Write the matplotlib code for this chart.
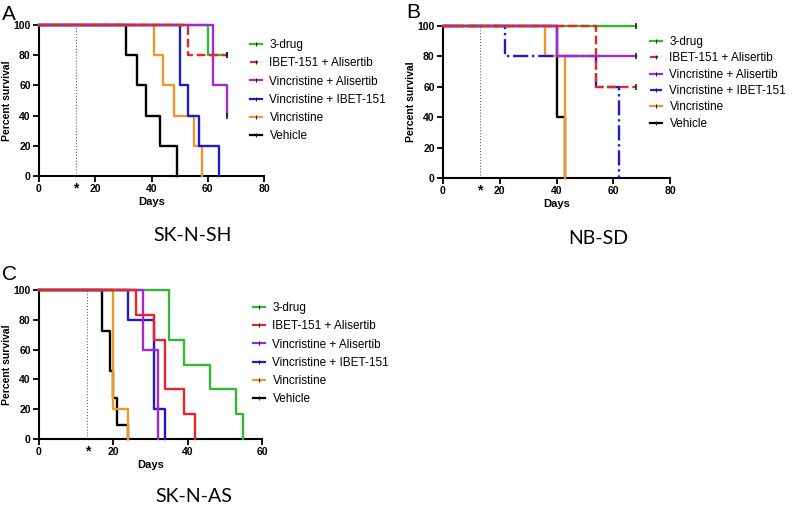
import matplotlib
matplotlib.use("Agg")
import matplotlib.pyplot as plt
from matplotlib.lines import Line2D

plt.rcParams['font.family'] = ['Liberation Sans', 'DejaVu Sans']

# series names (legend order)
labels = ["3-drug", "IBET-151 + Alisertib", "Vincristine + Alisertib",
          "Vincristine + IBET-151", "Vincristine", "Vehicle"]
colors = ["#33b833", "#e8262a", "#a02ad6", "#1c1ccc", "#f0962e", "#000000"]

# Panel A: SK-N-SH  (days, percent survival)
a_times = [[0, 60, 67], [0, 53, 67], [0, 62, 67],
           [0, 50, 53, 57, 64], [0, 41, 44, 48, 55, 58], [0, 31, 35, 38, 43, 49]]
a_surv = [[100, 80, 80], [100, 80, 80], [100, 60, 40],
          [100, 60, 40, 20, 0], [100, 80, 60, 40, 20, 0], [100, 80, 60, 40, 20, 0]]
a_styles = ["-", "--", "-", "-", "-", "-"]
a_censored = [True, True, True, False, False, False]

# Panel B: NB-SD
b_times = [[0, 68], [0, 54, 68], [0, 40, 68],
           [0, 22, 54, 62], [0, 36, 43], [0, 40, 43]]
b_surv = [[100, 100], [100, 60, 60], [100, 80, 80],
          [100, 80, 60, 0], [100, 80, 0], [100, 40, 0]]
b_styles = ["-", "--", "-", "-.", "-", "-"]
b_censored = [True, True, True, False, False, False]

# Panel C: SK-N-AS
c_times = [[0, 35, 39, 46, 53, 55], [0, 26, 31, 34, 39, 42], [0, 28, 32],
           [0, 24, 31, 34], [0, 20, 24], [0, 17, 19, 20, 21, 24]]
c_surv = [[100, 66.7, 50, 33.3, 16.7, 0], [100, 83.3, 66.7, 33.3, 16.7, 0], [100, 60, 0],
          [100, 80, 20, 0], [100, 20, 0], [100, 72.7, 45.5, 27.3, 9.1, 0]]
c_styles = ["-", "-", "-", "-", "-", "-"]
c_censored = [False] * 6

treat_day = 13

W, H = 795, 508
fig = plt.figure(figsize=(W / 100, H / 100), dpi=100)


def px_axes(left, right, top, bottom):
    return fig.add_axes([left / W, 1 - bottom / H, (right - left) / W, (bottom - top) / H])


def km_panel(ax, times, surv, styles, censored, xmax):
    # draw bottom to top
    order = [5, 4, 3, 0, 2, 1]
    for i in order:
        ax.step(times[i], surv[i], where="post", color=colors[i], ls=styles[i],
                lw=1.7, clip_on=False, zorder=3 + order.index(i))
        if censored[i]:
            ax.plot(times[i][-1], surv[i][-1], marker="|", ms=4, mew=1.2,
                    color="#222222", clip_on=False, zorder=10)
    ax.axvline(treat_day, color="#666666", ls=":", lw=0.8, zorder=1)
    ax.set_xlim(0, xmax)
    ax.set_ylim(0, 100)
    ax.set_xticks(range(0, xmax + 1, 20))
    ax.set_yticks(range(0, 101, 20))
    for s in ["top", "right"]:
        ax.spines[s].set_visible(False)
    for s in ["left", "bottom"]:
        ax.spines[s].set_linewidth(1.5)
    ax.tick_params(direction="out", length=4, width=1.3, labelsize=7.5, pad=2)
    for t in ax.get_xticklabels() + ax.get_yticklabels():
        t.set_fontweight("bold")
    ax.set_xlabel("Days", fontsize=8, fontweight="bold", labelpad=2)
    ax.set_ylabel("Percent survival", fontsize=7.5, fontweight="bold", labelpad=1)
    ax.annotate("*", xy=(treat_day, 0), xycoords=("data", "axes fraction"),
                xytext=(0, -9), textcoords="offset points", ha="center", va="center",
                fontsize=10, fontweight="bold")
    handles = [Line2D([0], [0], color=colors[i], ls=styles[i], lw=1.6, marker="|",
                      ms=3, mec="#222222", mew=0.8) for i in range(6)]
    return handles


def add_legend(ax, handles, x, y, spacing):
    ax.legend(handles, labels, loc="upper left", bbox_to_anchor=(x / W, 1 - y / H),
              bbox_transform=fig.transFigure, frameon=False, fontsize=8.5,
              borderaxespad=0, borderpad=0, handlelength=1.0, handletextpad=0.65,
              labelspacing=spacing)


axA = px_axes(39, 264, 25, 176)
hA = km_panel(axA, a_times, a_surv, a_styles, a_censored, 80)
add_legend(axA, hA, 250, 39, 0.53)

axB = px_axes(443, 670, 26, 178)
hB = km_panel(axB, b_times, b_surv, b_styles, b_censored, 80)
add_legend(axB, hB, 650, 36, 0.37)

axC = px_axes(39, 262, 290, 439)
hC = km_panel(axC, c_times, c_surv, c_styles, c_censored, 60)
add_legend(axC, hC, 253, 302, 0.53)

# panel letters
fig.text(2 / W, 1 - 14 / H, "A", fontsize=15, va="center", ha="left")
fig.text(406 / W, 1 - 13 / H, "B", fontsize=15, va="center", ha="left")
fig.text(2 / W, 1 - 274 / H, "C", fontsize=15, va="center", ha="left")

# cell line titles
fig.text(193 / W, 1 - 235 / H, "SK-N-SH", fontsize=14, ha="center", va="center", family="Lato")
fig.text(598 / W, 1 - 238 / H, "NB-SD", fontsize=14, ha="center", va="center", family="Lato")
fig.text(194 / W, 1 - 497 / H, "SK-N-AS", fontsize=14, ha="center", va="center", family="Lato")

fig.savefig("out.png", dpi=100)
